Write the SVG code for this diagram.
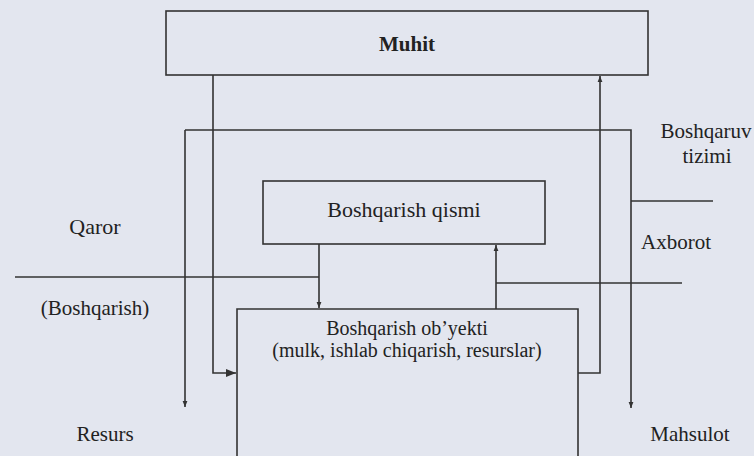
<svg xmlns="http://www.w3.org/2000/svg" width="754" height="456" viewBox="0 0 754 456">
<style>
.bg{fill:#e3e6ef}
.box{fill:none;stroke:#333;stroke-width:1.6}
.ln{fill:none;stroke:#333;stroke-width:1.6}
.t{font-family:"Liberation Serif","Times New Roman",serif;font-size:21px;fill:#222}
.c{text-anchor:middle}
.b{font-weight:bold}
</style>
<defs>
<marker id="ah" viewBox="0 0 10 10" refX="10" refY="5" markerWidth="6" markerHeight="6" orient="auto" markerUnits="userSpaceOnUse">
<path d="M0,1 L10,5 L0,9 z" fill="#333"/>
</marker>
<marker id="ahb" viewBox="0 0 10 10" refX="10" refY="5" markerWidth="10" markerHeight="10" orient="auto" markerUnits="userSpaceOnUse">
<path d="M0,1 L10,5 L0,9 z" fill="#333"/>
</marker>
</defs>
<rect class="bg" x="0" y="0" width="754" height="456"/>
<g id="muhit">
<rect class="box" x="166" y="11" width="482" height="64"/>
<text class="t c b" x="407" y="51">Muhit</text>
</g>
<g id="boshqarish-qismi">
<rect class="box" x="263" y="181" width="282" height="63"/>
<text class="t c" x="404" y="217" style="font-size:22px">Boshqarish qismi</text>
</g>
<g id="boshqarish-obyekti">
<path class="box" d="M237,460 V309 H578 V460"/>
<text class="t c" x="407" y="335" style="font-size:20px">Boshqarish ob’yekti</text>
<text class="t c" x="407" y="357" style="font-size:20px">(mulk, ishlab chiqarish, resurslar)</text>
</g>
<g id="labels">
<text class="t c" x="706" y="138">Boshqaruv</text>
<text class="t c" x="707" y="163">tizimi</text>
<text class="t c" x="95" y="234" style="font-size:22px">Qaror</text>
<text class="t c" x="95" y="315">(Boshqarish)</text>
<text class="t c" x="676" y="249">Axborot</text>
<text class="t c" x="105" y="441">Resurs</text>
<text class="t c" x="690" y="441">Mahsulot</text>
</g>
<g id="connectors">
<path class="ln" d="M213,75 V373 H236" marker-end="url(#ahb)"/>
<path class="ln" d="M578,373 H600 V76" marker-end="url(#ah)"/>
<path class="ln" d="M185,130 H631 V408" marker-end="url(#ah)"/>
<path class="ln" d="M185,130 V407" marker-end="url(#ah)"/>
<path class="ln" d="M631,201 H713"/>
<path class="ln" d="M15,277 H319"/>
<path class="ln" d="M319,244 V308" marker-end="url(#ah)"/>
<path class="ln" d="M496,309 V245" marker-end="url(#ah)"/>
<path class="ln" d="M496,283 H682"/>
</g>
</svg>
